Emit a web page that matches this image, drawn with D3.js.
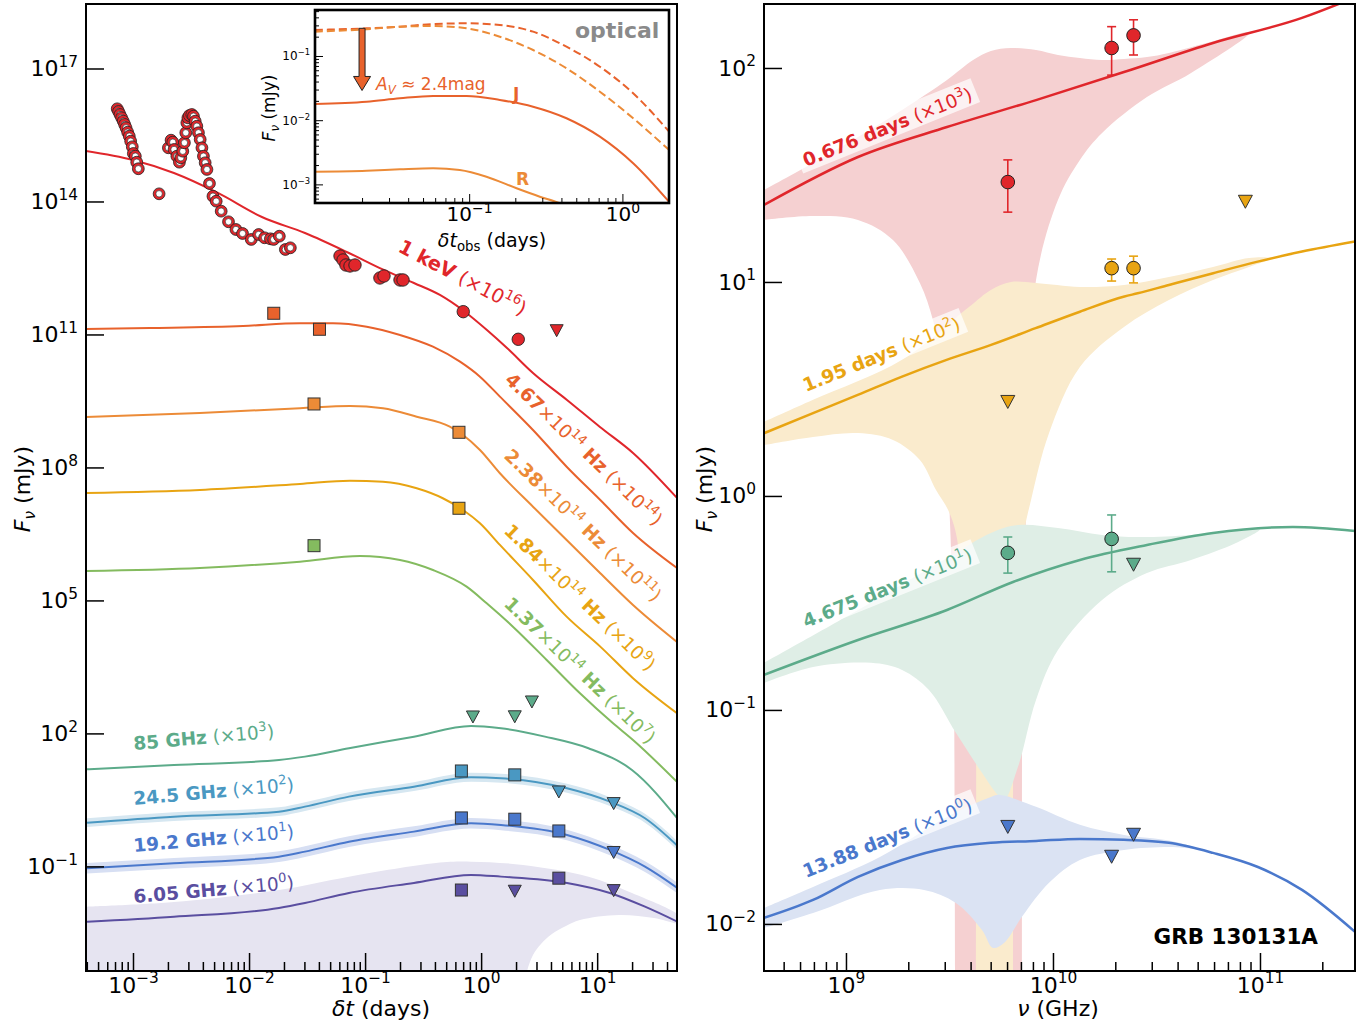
<!DOCTYPE html>
<html><head><meta charset="utf-8">
<script src="https://cdn.jsdelivr.net/npm/d3@7/dist/d3.min.js"></script>
<style>html,body{margin:0;padding:0;background:#fff;} svg{display:block;}</style>
</head><body>
<script>
// ================= DATA =================
// Left panel series: [log10 t (days), log10 F_nu (mJy, scaled)]
const xrayOpen = [[-3.136,16.091],[-3.124,16.030],[-3.112,15.962],[-3.098,15.888],[-3.084,15.812],[-3.072,15.737],[-3.060,15.662],[-3.046,15.563],[-3.032,15.473],[-3.020,15.360],[-3.006,15.234],[-2.997,15.083],[-2.980,15.022],[-2.968,14.886],[-2.954,14.738],[-2.775,14.173],
[-2.695,15.211],[-2.672,15.383],[-2.657,15.337],[-2.646,15.173],[-2.622,15.022],[-2.600,14.886],[-2.588,14.986],[-2.571,15.134],[-2.557,15.324],[-2.545,15.550],[-2.536,15.775],[-2.527,15.888],[-2.514,15.940],[-2.493,15.962],[-2.479,15.924],[-2.464,15.811],[-2.450,15.698],[-2.436,15.550],[-2.421,15.398],[-2.406,15.211],[-2.393,15.022],[-2.378,14.873],[-2.363,14.722],[-2.341,14.406],[-2.311,14.119],[-2.283,14.007],[-2.240,13.781],[-2.177,13.542],[-2.113,13.368],[-2.056,13.278],[-1.981,13.143],[-1.917,13.255],[-1.866,13.181],[-1.816,13.158],[-1.788,13.143],[-1.739,13.217],[-1.687,12.917],[-1.644,12.955]];
const xrayFilled = [[-1.216,12.770],[-1.190,12.680],[-1.165,12.567],[-1.130,12.545],[-1.087,12.567],[-0.872,12.274],[-0.837,12.319],[-0.699,12.229],[-0.673,12.229],[-0.154,11.514],[0.320,10.891]];
const xrayUL = [[0.651,11.085]];
const keVModel = [[-3.405,15.139],[-3.000,14.936],[-2.647,14.643],[-2.268,14.192],[-1.889,13.650],[-1.518,13.289],[-1.139,12.838],[-0.838,12.455],[-0.579,12.161],[-0.355,11.891],[-0.149,11.530],[0.050,11.101],[0.223,10.695],[0.447,10.131],[0.740,9.522],[1.024,8.913],[1.309,8.327],[1.688,7.312]];
const opt467Model = [[-3.405,11.124],[-2.854,11.146],[-2.052,11.191],[-1.561,11.252],[-1.277,11.252],[-0.986,11.175],[-0.699,10.988],[-0.415,10.724],[-0.182,10.386],[-0.010,10.048],[0.162,9.597],[0.447,8.845],[0.737,8.017],[1.027,7.266],[1.309,6.522],[1.688,5.732]];
const opt238Model = [[-3.405,9.138],[-2.423,9.229],[-1.561,9.335],[-1.130,9.387],[-0.846,9.335],[-0.555,9.145],[-0.270,8.920],[-0.156,8.732],[-0.010,8.394],[0.162,7.868],[0.447,7.115],[0.737,6.364],[1.027,5.613],[1.309,4.897],[1.688,4.063]];
const opt184Model = [[-3.405,7.425],[-2.423,7.492],[-1.561,7.627],[-1.130,7.702],[-0.846,7.679],[-0.555,7.530],[-0.330,7.305],[-0.156,7.041],[-0.010,6.741],[0.162,6.252],[0.447,5.462],[0.737,4.634],[1.027,3.958],[1.309,3.245],[1.688,2.455]];
const opt137Model = [[-3.405,5.665],[-2.423,5.733],[-1.561,5.875],[-1.044,6.003],[-0.699,5.913],[-0.415,5.687],[-0.125,5.311],[0.048,4.936],[0.274,4.408],[0.565,3.657],[0.852,2.905],[1.137,2.228],[1.309,1.852],[1.697,0.882]];
const opt467Data = [[-1.787,11.478],[-1.393,11.117]];
const opt238Data = [[-1.440,9.432],[-0.191,8.793]];
const opt184Data = [[-0.191,7.079]];
const opt137Data = [[-1.440,6.235]];
const r85Model  = [[-3.396,1.191],[-2.647,1.288],[-1.742,1.400],[-1.518,1.476],[-1.139,1.665],[-0.579,1.927],[-0.087,2.169],[0.171,2.116],[0.550,1.927],[0.925,1.665],[1.300,1.176],[1.714,0.009]];
const r245Model = [[-3.396,-0.013],[-2.647,0.122],[-1.742,0.235],[-1.518,0.348],[-1.139,0.574],[-0.579,0.799],[-0.087,1.011],[0.171,0.989],[0.740,0.763],[1.110,0.461],[1.412,0.086],[1.714,-0.591]];
const r245Band  = [[-3.396,-0.113,0.087],[-2.647,0.022,0.222],[-1.742,0.135,0.335],[-1.518,0.248,0.448],[-1.139,0.474,0.674],[-0.579,0.699,0.899],[-0.087,0.911,1.111],[0.171,0.889,1.089],[0.740,0.663,0.863],[1.110,0.361,0.561],[1.412,-0.014,0.186],[1.714,-0.691,-0.491]];
const r192Model = [[-3.396,-1.042],[-2.647,-0.929],[-1.742,-0.780],[-1.518,-0.667],[-1.139,-0.442],[-0.579,-0.216],[-0.087,-0.027],[0.171,-0.065],[0.740,-0.291],[1.110,-0.629],[1.412,-1.006],[1.714,-1.531]];
const r192Band  = [[-3.396,-1.162,-0.922],[-2.647,-1.049,-0.809],[-1.742,-0.900,-0.660],[-1.518,-0.787,-0.547],[-1.139,-0.562,-0.322],[-0.579,-0.336,-0.096],[-0.087,-0.147,0.093],[0.171,-0.185,0.055],[0.740,-0.411,-0.171],[1.110,-0.749,-0.509],[1.412,-1.126,-0.886],[1.714,-1.651,-1.411]];
const r605Model = [[-3.396,-2.247],[-2.647,-2.134],[-1.742,-1.937],[-1.518,-1.825],[-1.139,-1.599],[-0.579,-1.373],[-0.087,-1.192],[0.171,-1.231],[0.740,-1.373],[1.110,-1.599],[1.412,-1.908],[1.714,-2.276]];
const r605BandUp = [[-3.405,-1.908],[-2.647,-1.802],[-1.742,-1.531],[-1.139,-1.231],[-0.389,-0.922],[-0.087,-0.893],[0.361,-0.967],[0.925,-1.231],[1.300,-1.599],[1.714,-2.134]];
const r605BandLo = [[-3.405,-5],[0.380,-5],[0.390,-3.6],[0.395,-3.38],[0.447,-3.0],[0.516,-2.749],[0.610,-2.523],[0.731,-2.343],[0.852,-2.208],[1.188,-2.095],[1.490,-2.163],[1.714,-2.276]];

// Radio measurements, unscaled mJy: [freq GHz, epoch days, flux, low, high]
const radioDet = [[6.05,0.676,0.0293,0.0212,0.0372],[6.05,4.675,0.0542,0.0436,0.0643],[19.2,0.676,0.124,0.0926,0.156],[19.2,1.95,0.116,0.101,0.128],[19.2,4.675,0.063,0.0442,0.0815],[24.5,0.676,0.142,0.115,0.168],[24.5,1.95,0.116,0.099,0.132]];
const radioUL  = [[6.05,1.95,0.0275],[6.05,13.88,0.0284],[19.2,13.88,0.0206],[24.5,4.675,0.0477],[24.5,13.88,0.0261],[85,0.85,0.235],[85,1.95,0.237],[85,2.74,0.512]];
const freqScale  = {6.05:1, 19.2:10, 24.5:100, 85:1000};
const epochs     = [0.676, 1.95, 4.675, 13.88];
const epochScale = {0.676:1000, 1.95:100, 4.675:10, 13.88:1};

// Right panel: [log10 nu (Hz), log10 F_nu (mJy, scaled)]
const redLine  = [[8.604,1.360],[9.058,1.584],[9.488,1.724],[9.918,1.850],[10.343,1.981],[10.773,2.117],[11.203,2.234],[11.459,2.330]];
const redUp    = [[8.604,1.430],[8.841,1.556],[9.058,1.678],[9.271,1.804],[9.488,1.944],[9.614,2.037],[9.700,2.079],[9.797,2.093],[9.918,2.084],[10.024,2.061],[10.130,2.047],[10.237,2.037],[10.343,2.042],[10.454,2.051],[10.560,2.070],[10.773,2.125],[10.950,2.166]];
const redLo    = [[8.604,1.290],[8.841,1.308],[9.058,1.290],[9.227,1.196],[9.357,0.995],[9.420,0.822],[9.454,0.636],[9.478,0.355],[9.502,-0.112],[9.520,-0.720],[9.525,-1.6],[9.527,-2.26],[9.527,-2.5],[9.850,-2.5],[9.850,-2.26],[9.850,-1.6],[9.852,-0.953],[9.865,-0.252],[9.889,0.449],[9.918,1.009],[10.024,1.383],[10.130,1.570],[10.237,1.696],[10.454,1.864],[10.667,1.977],[10.950,2.166]];
const orLine   = [[8.604,0.293],[8.841,0.387],[9.057,0.472],[9.271,0.558],[9.486,0.636],[9.701,0.706],[9.916,0.784],[10.130,0.861],[10.345,0.932],[10.409,0.947],[10.560,0.986],[10.774,1.041],[10.989,1.095],[11.203,1.142],[11.459,1.189]];
const orUp     = [[8.604,0.346],[8.841,0.449],[9.271,0.636],[9.594,0.883],[9.700,0.963],[9.797,1.000],[9.918,0.995],[10.130,0.977],[10.343,0.986],[10.560,1.023],[10.773,1.070],[10.947,1.112],[11.050,1.110]];
const orLo     = [[8.604,0.238],[8.841,0.276],[9.058,0.294],[9.227,0.262],[9.357,0.168],[9.435,0.028],[9.493,-0.065],[9.531,-0.173],[9.570,-0.486],[9.614,-0.799],[9.627,-1.107],[9.628,-1.7],[9.628,-2.26],[9.628,-2.5],[9.807,-2.5],[9.807,-2.26],[9.807,-1.7],[9.808,-1.107],[9.812,-0.799],[9.831,-0.486],[9.860,-0.173],[9.894,-0.019],[9.981,0.294],[10.130,0.603],[10.343,0.790],[10.560,0.916],[10.773,1.009],[10.947,1.070],[11.050,1.110]];
const grLine   = [[8.604,-0.836],[9.058,-0.673],[9.488,-0.533],[9.807,-0.402],[10.130,-0.299],[10.454,-0.229],[10.773,-0.173],[11.159,-0.145],[11.459,-0.164]];
const grUp     = [[8.604,-0.780],[9.058,-0.533],[9.488,-0.290],[9.700,-0.173],[9.831,-0.136],[10.024,-0.150],[10.237,-0.182],[10.411,-0.192],[10.667,-0.182],[10.884,-0.159],[11.000,-0.155]];
const grLo     = [[8.604,-0.874],[8.841,-0.799],[9.121,-0.780],[9.271,-0.813],[9.401,-0.907],[9.531,-1.107],[9.657,-1.294],[9.725,-1.388],[9.763,-1.421],[9.831,-1.266],[9.918,-0.953],[10.024,-0.720],[10.237,-0.486],[10.454,-0.360],[10.667,-0.299],[10.884,-0.220],[11.000,-0.155]];
const blLine   = [[8.604,-1.972],[8.841,-1.888],[9.058,-1.780],[9.271,-1.701],[9.488,-1.645],[9.700,-1.621],[9.918,-1.612],[10.130,-1.603],[10.343,-1.607],[10.560,-1.621],[10.773,-1.668],[10.990,-1.734],[11.203,-1.841],[11.459,-2.037]];
const blUp     = [[8.604,-1.925],[8.841,-1.827],[9.164,-1.687],[9.488,-1.500],[9.700,-1.407],[9.744,-1.397],[9.918,-1.453],[10.130,-1.537],[10.343,-1.584],[10.560,-1.610],[10.700,-1.648]];
const blLo     = [[8.604,-2.019],[8.841,-1.949],[9.164,-1.841],[9.377,-1.841],[9.531,-1.902],[9.657,-2.028],[9.710,-2.112],[9.763,-2.089],[9.850,-1.967],[9.981,-1.808],[10.130,-1.701],[10.343,-1.654],[10.560,-1.640],[10.700,-1.648]];

// Inset (optical): [log10 t_obs (days), log10 F_nu (mJy)]
const insJdash = [[-2.007,-0.595],[-1.669,-0.569],[-1.452,-0.544],[-1.235,-0.502],[-1.017,-0.491],[-0.800,-0.517],[-0.583,-0.621],[-0.365,-0.855],[-0.147,-1.167],[0.070,-1.581],[0.305,-2.179]];
const insRdash = [[-2.007,-0.621],[-1.669,-0.583],[-1.452,-0.544],[-1.235,-0.533],[-1.017,-0.569],[-0.800,-0.699],[-0.583,-0.907],[-0.365,-1.192],[-0.147,-1.556],[0.070,-1.970],[0.305,-2.464]];
const insJ     = [[-2.007,-1.748],[-1.669,-1.712],[-1.452,-1.659],[-1.235,-1.623],[-1.017,-1.623],[-0.800,-1.685],[-0.583,-1.790],[-0.365,-1.970],[-0.147,-2.257],[0.070,-2.671],[0.305,-3.274]];
const insR     = [[-2.007,-2.802],[-1.669,-2.787],[-1.452,-2.765],[-1.235,-2.749],[-1.061,-2.776],[-0.887,-2.880],[-0.691,-3.061],[-0.539,-3.192],[-0.419,-3.285],[-0.311,-3.400]];

// Tick values
const leftXTicks  = [1e-3,1e-2,1e-1,1e0,1e1];
const leftYTicks  = [1e-1,1e2,1e5,1e8,1e11,1e14,1e17];
const rightXTicks = [1e9,1e10,1e11];
const rightYTicks = [1e-2,1e-1,1e0,1e1,1e2];
const insXTicks   = [1e-1,1e0];
const insYTicks   = [1e-3,1e-2,1e-1];

// ================= STYLE =================
const FONT = '"DejaVu Sans", sans-serif';
const C = {red:"#e0262b", o467:"#e8622c", o238:"#ec8b37", o184:"#e8a412", o137:"#84bb5f",
  g85:"#5cab8a", b245:"#4a98c2", b192:"#4a78cc", p605:"#5a4ea0",
  bandRed:"#f5d0d1", bandOr:"#faebcd", bandGr:"#dfeee6", bandBl:"#dbe3f3",
  band245:"#d6e7f1", band192:"#d7dff3", band605:"#e6e4f1"};
const freqColor = {6.05:C.p605, 19.2:C.b192, 24.5:C.b245, 85:C.g85};
const epochColor = {0.676:C.red, 1.95:C.o184, 4.675:C.g85, 13.88:C.b192};

const svg = d3.select("body").append("svg").attr("width",1367).attr("height",1027)
  .attr("font-family",FONT);
const defs = svg.append("defs");

const L = {x0:86, x1:677, y0:4, y1:971};
const R = {x0:764, x1:1355, y0:4, y1:971};
const I = {x0:315, x1:669, y0:10, y1:203};

const xL = d3.scaleLog().domain([10**-3.405, 10**1.688]).range([L.x0, L.x1]);
const yL = d3.scaleLog().domain([10**-3.36, 10**18.455]).range([L.y1, L.y0]);
const xR = d3.scaleLog().domain([10**8.604, 10**11.459]).range([R.x0, R.x1]);
const yR = d3.scaleLog().domain([10**-2.220, 10**2.299]).range([R.y1, R.y0]);
const xI = d3.scaleLog().domain([10**-2.006, 10**0.304]).range([I.x0, I.x1]);
const yI = d3.scaleLog().domain([10**-3.29, 10**-0.2835]).range([I.y1, I.y0]);

function clip(id, P){
  defs.append("clipPath").attr("id",id).append("rect")
    .attr("x",P.x0).attr("y",P.y0).attr("width",P.x1-P.x0).attr("height",P.y1-P.y0);
}
clip("cL",L); clip("cR",R); clip("cI",I);

const lineGen = (xs,ys)=>d3.line().x(d=>xs(10**d[0])).y(d=>ys(10**d[1])).curve(d3.curveMonotoneX);
function polyPath(xs,ys,up,lo){
  let l = lo.slice();
  const a=up[up.length-1], b=l[l.length-1];
  if (a[0]===b[0] && a[1]===b[1]) l = l.slice(0,-1);
  const pts = up.concat(l.reverse());
  return d3.line().x(d=>xs(10**d[0])).y(d=>ys(10**d[1])).curve(d3.curveCatmullRom.alpha(0.5))(pts)+"Z";
}

// rich text helper
function rich(g, parts, size, color){
  const t = g.append("text").attr("font-size",size).attr("fill",color);
  let off = 0;
  parts.forEach(p=>{
    const s = t.append("tspan").text(p.t);
    if (p.b) s.attr("font-weight","bold");
    if (p.i) s.attr("font-style","italic");
    let target = 0;
    if (p.sup){ s.attr("font-size",size*0.7); target = -size*0.42; }
    else if (p.sub){ s.attr("font-size",size*0.7); target = size*0.22; }
    if (target!==off) s.attr("dy", target-off);
    off = target;
  });
  return t;
}
function label(x,y,ang,parts,size,color,anchor,boxed){
  const g = svg.append("g").attr("transform",`translate(${x},${y}) rotate(${ang})`);
  const r = boxed ? g.append("rect") : null;
  const t = rich(g,parts,size,color);
  if (anchor) t.attr("text-anchor",anchor);
  if (boxed){
    const bb = t.node().getBBox();
    r.attr("x",bb.x-5).attr("y",bb.y-1).attr("width",bb.width+10).attr("height",bb.height+2)
     .attr("fill","#fff").attr("fill-opacity",0.72);
  }
  return g;
}

function minorTicks(dom){
  const lo=dom[0], hi=dom[1], r=[];
  for (let e=Math.floor(Math.log10(lo)); e<=Math.ceil(Math.log10(hi)); e++)
    for (let m=2;m<=9;m++){ const v=m*Math.pow(10,e); if (v>=lo && v<=hi) r.push(v); }
  return r;
}
function drawAxis(orient, scale, tx, ty, majors, majLen, minLen, fs, pad, sw, withMinor){
  const mk = orient==="left" ? d3.axisLeft : d3.axisBottom;
  if (withMinor){
    const gm = svg.append("g").attr("transform",`translate(${tx},${ty})`)
      .call(mk(scale).tickValues(minorTicks(scale.domain())).tickSize(-minLen).tickFormat(()=>""));
    gm.select(".domain").remove();
    gm.selectAll("line").attr("stroke","#000").attr("stroke-width",sw);
  }
  const g = svg.append("g").attr("transform",`translate(${tx},${ty})`)
    .call(mk(scale).tickValues(majors).tickSize(-majLen).tickPadding(pad));
  g.select(".domain").remove();
  g.attr("font-family",FONT).attr("font-size",fs);
  g.selectAll("line").attr("stroke","#000").attr("stroke-width",sw);
  g.selectAll(".tick text").each(function(d){
    const e = Math.round(Math.log10(d));
    const t = d3.select(this).text(null).attr("fill","#000");
    t.append("tspan").text("10");
    t.append("tspan").attr("font-size",fs*0.7).attr("dy",-fs*0.42).text(e<0 ? "\u2212"+(-e) : String(e));
  });
}
function sq(g,x,y,c,s){ g.append("rect").attr("x",x-s/2).attr("y",y-s/2).attr("width",s).attr("height",s)
  .attr("fill",c).attr("stroke","#333").attr("stroke-width",1); }
function tri(g,x,y,c,w,h){ g.append("path").attr("d",`M${x-w/2},${y-h/2}L${x+w/2},${y-h/2}L${x},${y+h/2}Z`)
  .attr("fill",c).attr("stroke","#333").attr("stroke-width",1); }

// ================= LEFT PANEL =================
const gL = svg.append("g").attr("clip-path","url(#cL)");
gL.append("path").attr("d",polyPath(xL,yL,r605BandUp,r605BandLo)).attr("fill",C.band605);
const areaL = d3.area().x(d=>xL(10**d[0])).y0(d=>yL(10**d[1])).y1(d=>yL(10**d[2])).curve(d3.curveMonotoneX);
gL.append("path").attr("d",areaL(r245Band)).attr("fill",C.band245);
gL.append("path").attr("d",areaL(r192Band)).attr("fill",C.band192);
const lgL = lineGen(xL,yL);
[[keVModel,C.red],[opt467Model,C.o467],[opt238Model,C.o238],[opt184Model,C.o184],[opt137Model,C.o137],
 [r85Model,C.g85],[r245Model,C.b245],[r192Model,C.b192],[r605Model,C.p605]].forEach(([d,c])=>{
  gL.append("path").attr("d",lgL(d)).attr("fill","none").attr("stroke",c).attr("stroke-width",2);
});

const mL = svg.append("g");
// X-ray open circles
xrayOpen.forEach(d=>{
  const cx=xL(10**d[0]), cy=yL(10**d[1]);
  mL.append("circle").attr("cx",cx).attr("cy",cy).attr("r",5.9).attr("fill",C.red).attr("stroke","#222").attr("stroke-width",0.8);
  mL.append("circle").attr("cx",cx).attr("cy",cy).attr("r",3.2).attr("fill","#fff").attr("stroke","#222").attr("stroke-width",0.6);
});
xrayFilled.forEach(d=>{
  mL.append("circle").attr("cx",xL(10**d[0])).attr("cy",yL(10**d[1])).attr("r",6.2)
    .attr("fill",C.red).attr("stroke","#222").attr("stroke-width",0.9);
});
xrayUL.forEach(d=>tri(mL,xL(10**d[0]),yL(10**d[1]),C.red,13,12));
[[opt467Data,C.o467],[opt238Data,C.o238],[opt184Data,C.o184],[opt137Data,C.o137]].forEach(([arr,c])=>{
  arr.forEach(d=>sq(mL,xL(10**d[0]),yL(10**d[1]),c,12));
});
radioDet.forEach(d=>sq(mL,xL(d[1]),yL(d[2]*freqScale[d[0]]),freqColor[d[0]],12));
radioUL.forEach(d=>tri(mL,xL(d[1]),yL(d[2]*freqScale[d[0]]),freqColor[d[0]],13,12));

// Left labels
const FS=18.5;
label(397,251,27.5,[{t:"1 keV",b:1},{t:" (×10"},{t:"16",sup:1},{t:")"}],19.5,C.red);
label(504,381,44,[{t:"4.67",b:1},{t:"×10"},{t:"14",sup:1},{t:" Hz",b:1},{t:" (×10"},{t:"14",sup:1},{t:")"}],FS,C.o467);
label(503,457,44,[{t:"2.38",b:1},{t:"×10"},{t:"14",sup:1},{t:" Hz",b:1},{t:" (×10"},{t:"11",sup:1},{t:")"}],FS,C.o238);
label(503,532,44,[{t:"1.84",b:1},{t:"×10"},{t:"14",sup:1},{t:" Hz",b:1},{t:" (×10"},{t:"9",sup:1},{t:")"}],FS,C.o184);
label(503,605,44,[{t:"1.37",b:1},{t:"×10"},{t:"14",sup:1},{t:" Hz",b:1},{t:" (×10"},{t:"7",sup:1},{t:")"}],FS,C.o137);
label(134,750,-5,[{t:"85 GHz",b:1},{t:" (×10"},{t:"3",sup:1},{t:")"}],FS,C.g85);
label(134,805,-5,[{t:"24.5 GHz",b:1},{t:" (×10"},{t:"2",sup:1},{t:")"}],FS,C.b245);
label(134,852,-5,[{t:"19.2 GHz",b:1},{t:" (×10"},{t:"1",sup:1},{t:")"}],FS,C.b192);
label(134,903,-5,[{t:"6.05 GHz",b:1},{t:" (×10"},{t:"0",sup:1},{t:")"}],FS,C.p605);

drawAxis("bottom",xL,0,L.y1,leftXTicks,18,9,22,6,1.5,true);
drawAxis("left",yL,L.x0,0,leftYTicks,18,9,22,8,1.5,false);
svg.append("rect").attr("x",L.x0).attr("y",L.y0).attr("width",L.x1-L.x0).attr("height",L.y1-L.y0)
  .attr("fill","none").attr("stroke","#000").attr("stroke-width",2);
label(30,489,-90,[{t:"F",i:1},{t:"ν",i:1,sub:1},{t:" (mJy)"}],22,"#000","middle");
label(381,1016,0,[{t:"δt",i:1},{t:" (days)"}],22,"#000","middle");

// ================= INSET =================
svg.append("rect").attr("x",I.x0).attr("y",I.y0).attr("width",I.x1-I.x0).attr("height",I.y1-I.y0).attr("fill","#fff");
const gI = svg.append("g").attr("clip-path","url(#cI)");
const lgI = lineGen(xI,yI);
gI.append("path").attr("d",lgI(insJdash)).attr("fill","none").attr("stroke",C.o467).attr("stroke-width",2).attr("stroke-dasharray","8,4");
gI.append("path").attr("d",lgI(insRdash)).attr("fill","none").attr("stroke",C.o238).attr("stroke-width",2).attr("stroke-dasharray","8,4");
gI.append("path").attr("d",lgI(insJ)).attr("fill","none").attr("stroke",C.o467).attr("stroke-width",2);
gI.append("path").attr("d",lgI(insR)).attr("fill","none").attr("stroke",C.o238).attr("stroke-width",2);
// extinction arrow at t = 0.02 d
{
  const ax = xI(0.02), y0 = yI(0.27), yh = yI(0.048), y1 = yI(0.029);
  svg.append("path").attr("d",`M${ax-3},${y0}L${ax+3},${y0}L${ax+3},${yh}L${ax+8.5},${yh}L${ax},${y1}L${ax-8.5},${yh}L${ax-3},${yh}Z`)
    .attr("fill",C.o467).attr("stroke","#222").attr("stroke-width",1);
}
label(575,38,0,[{t:"optical",b:1}],22,"#8a8a8a");
label(376,90,0,[{t:"A",i:1},{t:"V",i:1,sub:1},{t:" ≈ 2.4mag"}],17,C.o467);
label(513,100,0,[{t:"J",b:1}],17,C.o467);
label(516,185,0,[{t:"R",b:1}],17,C.o238);
drawAxis("bottom",xI,0,I.y1,insXTicks,9,5,20,4,1,true);
drawAxis("left",yI,I.x0,0,insYTicks,8,4,12,5,1,true);
svg.append("rect").attr("x",I.x0).attr("y",I.y0).attr("width",I.x1-I.x0).attr("height",I.y1-I.y0)
  .attr("fill","none").attr("stroke","#000").attr("stroke-width",2.6);
label(275,108,-90,[{t:"F",i:1},{t:"ν",i:1,sub:1},{t:" (mJy)"}],17,"#000","middle");
label(492,247,0,[{t:"δt",i:1},{t:"obs",sub:1},{t:" (days)"}],19,"#000","middle");

// ================= RIGHT PANEL =================
const gR = svg.append("g").attr("clip-path","url(#cR)");
[[redUp,redLo,C.bandRed],[orUp,orLo,C.bandOr],[grUp,grLo,C.bandGr],[blUp,blLo,C.bandBl]].forEach(([u,l,c])=>{
  gR.append("path").attr("d",polyPath(xR,yR,u,l)).attr("fill",c);
});
const lgR = lineGen(xR,yR);
[[redLine,C.red],[orLine,C.o184],[grLine,C.g85],[blLine,C.b192]].forEach(([d,c])=>{
  gR.append("path").attr("d",lgR(d)).attr("fill","none").attr("stroke",c).attr("stroke-width",2.5);
});
// Right labels (boxed)
label(806,167,-22,[{t:"0.676 days",b:1},{t:" (×10"},{t:"3",sup:1},{t:")"}],FS,C.red,null,true);
label(806,392,-22,[{t:"1.95 days",b:1},{t:" (×10"},{t:"2",sup:1},{t:")"}],FS,C.o184,null,true);
label(806,628,-22,[{t:"4.675 days",b:1},{t:" (×10"},{t:"1",sup:1},{t:")"}],FS,C.g85,null,true);
label(806,878,-22,[{t:"13.88 days",b:1},{t:" (×10"},{t:"0",sup:1},{t:")"}],FS,C.b192,null,true);

const mR = svg.append("g");
radioDet.forEach(d=>{
  if (!(d[1] in epochScale)) return;
  const s = epochScale[d[1]], c = epochColor[d[1]], x = xR(d[0]*1e9);
  const ylo = yR(d[3]*s), yhi = yR(d[4]*s);
  mR.append("line").attr("x1",x).attr("x2",x).attr("y1",ylo).attr("y2",yhi).attr("stroke",c).attr("stroke-width",1.6);
  mR.append("line").attr("x1",x-4.5).attr("x2",x+4.5).attr("y1",ylo).attr("y2",ylo).attr("stroke",c).attr("stroke-width",1.6);
  mR.append("line").attr("x1",x-4.5).attr("x2",x+4.5).attr("y1",yhi).attr("y2",yhi).attr("stroke",c).attr("stroke-width",1.6);
  mR.append("circle").attr("cx",x).attr("cy",yR(d[2]*s)).attr("r",6.8).attr("fill",c).attr("stroke","#222").attr("stroke-width",1);
});
radioUL.forEach(d=>{
  if (!epochs.includes(d[1])) return;
  tri(mR,xR(d[0]*1e9),yR(d[2]*epochScale[d[1]]),epochColor[d[1]],14,13);
});
label(1318,944,0,[{t:"GRB 130131A",b:1}],21.5,"#000","end");

drawAxis("bottom",xR,0,R.y1,rightXTicks,18,9,22,6,1.5,true);
drawAxis("left",yR,R.x0,0,rightYTicks,18,9,22,8,1.5,false);
svg.append("rect").attr("x",R.x0).attr("y",R.y0).attr("width",R.x1-R.x0).attr("height",R.y1-R.y0)
  .attr("fill","none").attr("stroke","#000").attr("stroke-width",2);
label(712,489,-90,[{t:"F",i:1},{t:"ν",i:1,sub:1},{t:" (mJy)"}],22,"#000","middle");
label(1058,1016,0,[{t:"ν",i:1},{t:" (GHz)"}],22,"#000","middle");
</script>
</body></html>
